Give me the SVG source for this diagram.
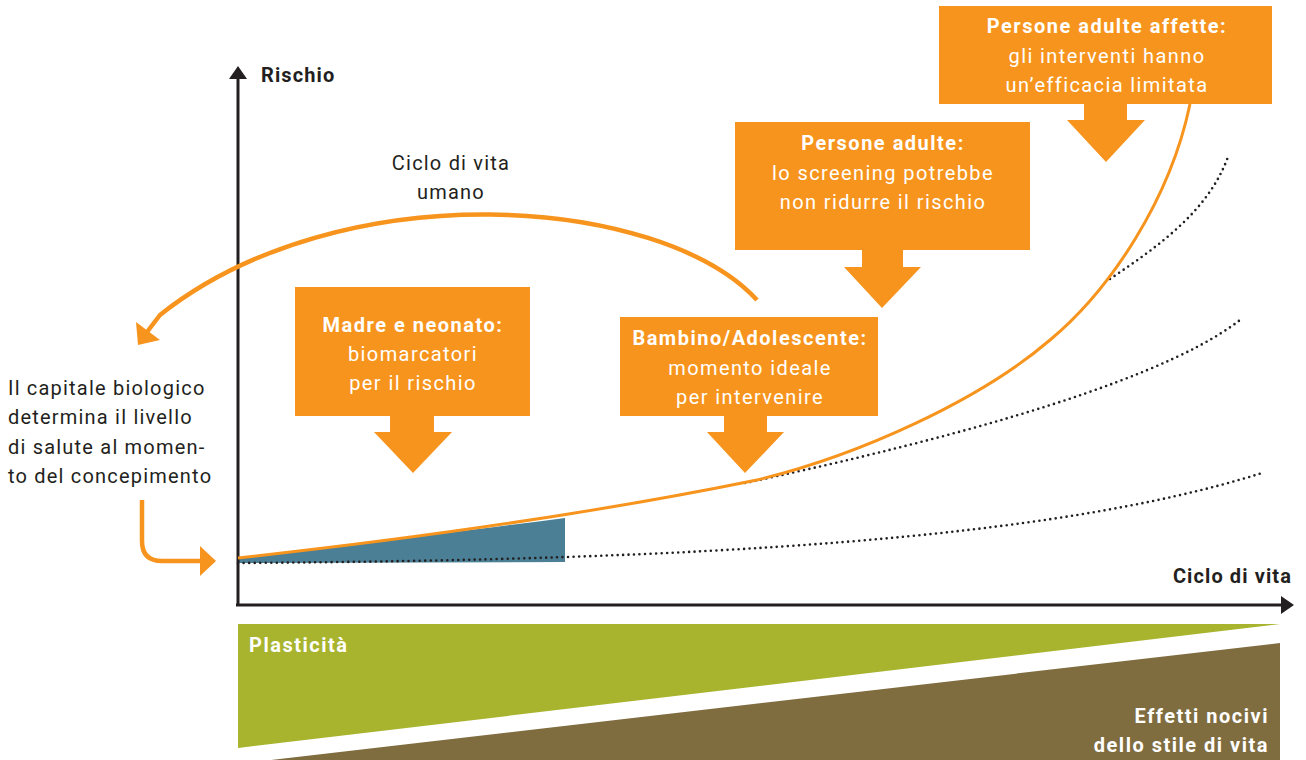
<svg xmlns="http://www.w3.org/2000/svg" width="1306" height="760" viewBox="0 0 1306 760">
  <style>
    .t { font-family: Roboto, "Liberation Sans", sans-serif; fill: #231F20; }
    .reg { font-size: 20px; font-weight: 400; letter-spacing: 1.2px; }
    .bold { font-size: 20px; font-weight: 700; letter-spacing: 1.1px; }
    .w { fill: #FFFFFF; font-family: Roboto, "Liberation Sans", sans-serif; font-size: 20px; letter-spacing: 1.4px; }
    .wb { font-weight: 700; letter-spacing: 1.5px; }
    .band { fill: #FFFFFF; font-family: Roboto, "Liberation Sans", sans-serif; font-size: 20px; font-weight: 700; letter-spacing: 1.5px; }
    .box { fill: #F7941D; }
    .axis { stroke: #231F20; stroke-width: 3; fill: none; }
    .dots { stroke: #231F20; stroke-width: 2.6; fill: none; stroke-linecap: round; stroke-dasharray: 0 5.5; }
    .orange { stroke: #F7941D; fill: none; }
  </style>

  <rect width="1306" height="760" fill="#FFFFFF"/>

  <!-- bottom bands -->
  <g id="plasticita">
    <polygon points="238,624 1280,624 238,748" fill="#A8B42D"/>
    <text class="band" x="249" y="652">Plasticità</text>
  </g>
  <g id="effetti-nocivi">
    <polygon points="1280,643 1280,760 271,760" fill="#7F6D40"/>
    <text class="band" x="1269" y="723" text-anchor="end">Effetti nocivi</text>
    <text class="band" x="1269" y="752" text-anchor="end">dello stile di vita</text>
  </g>

  <!-- area between curves -->
  <path d="M238,558 C330,547 450,533 565,518 L565,562 L238,563 Z" fill="#4A7F95"/>

  <g id="connectors">
    <!-- axes -->
    <line class="axis" x1="238" y1="606" x2="238" y2="76"/>
    <polygon points="229,79 238,66 247,79" fill="#231F20"/>
    <line class="axis" x1="236" y1="605" x2="1284" y2="605"/>
    <polygon points="1281,596 1294,605 1281,614" fill="#231F20"/>

    <!-- dotted trajectories -->
    <path class="dots" d="M238,563 C700,560 1050,540 1262,473"/>
    <path class="dots" d="M745,483 C900,450 1150,390 1240,320"/>
    <path class="dots" d="M1110,279 C1160,245 1210,210 1229,154"/>

    <!-- risk curve -->
    <path class="orange" stroke-width="3" d="M238,558 C420,538 600,512 757,480 C860,455 980,400 1050,340 C1110,290 1170,200 1190,104"/>

    <!-- life-cycle arc -->
    <path class="orange" stroke-width="4.5" d="M757,300 C660,195 340,172 160,315 L147,332"/>
    <polygon points="138,345 136,322 160,340" fill="#F7941D"/>

    <!-- conception arrow -->
    <path class="orange" stroke-width="4.5" d="M142,500 L142,541 Q142,561 162,561 L202,561"/>
    <polygon points="200,546 216,561 200,576" fill="#F7941D"/>
  </g>

  <!-- labels -->
  <g id="axis-labels">
    <text class="t bold" x="261" y="82">Rischio</text>
    <text class="t bold" x="1292" y="583" text-anchor="end">Ciclo di vita</text>
  </g>

  <g id="ciclo-label">
    <text class="t reg" x="451" y="170" text-anchor="middle">Ciclo di vita</text>
    <text class="t reg" x="451" y="199" text-anchor="middle">umano</text>
  </g>

  <g id="capitale-biologico">
    <text class="t reg" x="8" y="395">Il capitale biologico</text>
    <text class="t reg" x="8" y="424">determina il livello</text>
    <text class="t reg" x="8" y="454">di salute al momen-</text>
    <text class="t reg" x="8" y="483">to del concepimento</text>
  </g>

  <g id="madre-neonato">
    <rect class="box" x="295" y="287" width="235" height="129"/>
    <polygon class="box" points="390,415 434,415 434,432 452,432 413,473 374,432 390,432"/>
    <text class="w wb" x="413" y="332" text-anchor="middle">Madre e neonato:</text>
    <text class="w" x="413" y="361" text-anchor="middle">biomarcatori</text>
    <text class="w" x="413" y="390" text-anchor="middle">per il rischio</text>
  </g>

  <g id="bambino-adolescente">
    <rect class="box" x="620" y="317" width="258" height="99"/>
    <polygon class="box" points="724,415 767,415 767,432 784,432 745,473 707,432 724,432"/>
    <text class="w wb" x="750" y="345" text-anchor="middle">Bambino/Adolescente:</text>
    <text class="w" x="750" y="375" text-anchor="middle">momento ideale</text>
    <text class="w" x="750" y="404" text-anchor="middle">per intervenire</text>
  </g>

  <g id="persone-adulte">
    <rect class="box" x="735" y="122" width="295" height="128"/>
    <polygon class="box" points="862,249 903,249 903,267 921,267 882,308 844,267 862,267"/>
    <text class="w wb" x="883" y="150" text-anchor="middle">Persone adulte:</text>
    <text class="w" x="883" y="180" text-anchor="middle">lo screening potrebbe</text>
    <text class="w" x="883" y="209" text-anchor="middle">non ridurre il rischio</text>
  </g>

  <g id="persone-adulte-affette">
    <rect class="box" x="939" y="6" width="333" height="98"/>
    <polygon class="box" points="1084,103 1127,103 1127,120 1145,120 1106,162 1067,120 1084,120"/>
    <text class="w wb" x="1107" y="33" text-anchor="middle">Persone adulte affette:</text>
    <text class="w" x="1107" y="63" text-anchor="middle">gli interventi hanno</text>
    <text class="w" x="1107" y="92" text-anchor="middle">un’efficacia limitata</text>
  </g>
</svg>
